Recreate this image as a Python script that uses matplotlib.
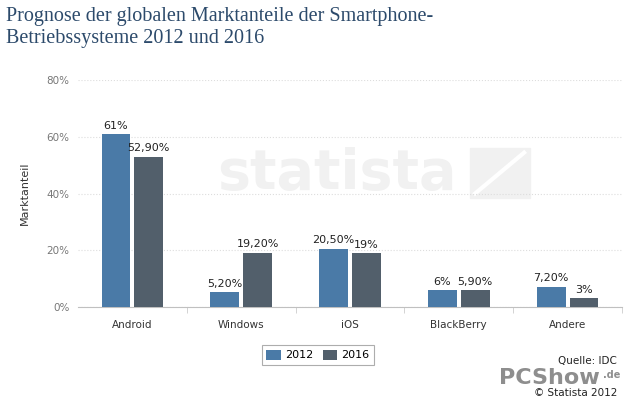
import numpy as np
import matplotlib.pyplot as plt

categories = ['Android', 'Windows', 'iOS', 'BlackBerry', 'Andere']
values_2012 = [61.0, 5.2, 20.5, 6.0, 7.2]
values_2016 = [52.9, 19.2, 19.0, 5.9, 3.0]
labels_2012 = ['61%', '5,20%', '20,50%', '6%', '7,20%']
labels_2016 = ['52,90%', '19,20%', '19%', '5,90%', '3%']
yticks = [0, 20, 40, 60, 80]


def main():
    fig = plt.figure(figsize=(6.32, 4.04), dpi=100)
    ax = fig.add_axes([78 / 632, 1 - 307 / 404, 544 / 632, 227 / 404])

    # statista watermark
    ax.text(0.475, 0.585, 'statista', transform=ax.transAxes, fontsize=40,
            fontweight='bold', color='#f1f1f1', ha='center', va='center', zorder=0)
    ax.add_patch(plt.Rectangle((0.72, 0.48), 0.11, 0.22, transform=ax.transAxes,
                               color='#f1f1f1', zorder=0))
    ax.plot([0.73, 0.82], [0.50, 0.68], transform=ax.transAxes, color='white',
            linewidth=3, zorder=0)

    x = np.arange(len(categories))
    off = 0.151
    w = 0.266
    b1 = ax.bar(x - off, values_2012, w, color='#4a7aa7', label='2012', zorder=3)
    b2 = ax.bar(x + off, values_2016, w, color='#525f6b', label='2016', zorder=3)
    for bars, labs in ((b1, labels_2012), (b2, labels_2016)):
        for r, lab in zip(bars, labs):
            ax.text(r.get_x() + r.get_width() / 2, r.get_height() + 1.2, lab,
                    ha='center', va='bottom', fontsize=8, color='#222222', zorder=4)

    ax.set_xlim(-0.5, len(categories) - 0.5)
    ax.set_ylim(0, 80)
    ax.set_yticks(yticks)
    ax.set_yticklabels(['{}%'.format(v) for v in yticks], fontsize=7.5, color='#777777')
    ax.set_xticks(x)
    ax.set_xticklabels(categories, fontsize=7.5, color='#333333')
    ax.set_xticks(np.arange(len(categories)) + 0.5, minor=True)
    ax.tick_params(axis='x', which='major', length=0, pad=9)
    ax.tick_params(axis='x', which='minor', length=4, color='#cccccc')
    ax.tick_params(axis='y', length=0, pad=6)
    ax.grid(axis='y', color='#dddddd', linestyle=':', linewidth=0.8, zorder=1)
    for s in ('top', 'right', 'left'):
        ax.spines[s].set_visible(False)
    ax.spines['bottom'].set_color('#c0c0c0')
    ax.set_ylabel('Marktanteil', fontsize=8, color='#333333', labelpad=12)

    fig.text(6 / 632, 1 - 7 / 404,
             'Prognose der globalen Marktanteile der Smartphone-\nBetriebssysteme 2012 und 2016',
             fontsize=14.5, family='Liberation Serif', color='#2c4a6b', va='top', ha='left',
             linespacing=1.2)

    leg = ax.legend(loc='center', bbox_to_anchor=(318 / 632, 1 - 355 / 404),
                    bbox_transform=fig.transFigure, ncol=2, fontsize=8, frameon=True,
                    fancybox=False, edgecolor='#999999', handlelength=1.3, handleheight=1.0,
                    columnspacing=0.8, handletextpad=0.4, borderpad=0.4)
    leg.get_frame().set_linewidth(0.8)

    fig.text(617 / 632, 1 - 361 / 404, 'Quelle: IDC', fontsize=7.5, color='#222222',
             ha='right', va='center')
    fig.text(600 / 632, 1 - 378 / 404, 'PCShow', fontsize=16, fontweight='bold',
             color='#7a7a7a', ha='right', va='center', alpha=0.85)
    fig.text(603 / 632, 1 - 375 / 404, '.de', fontsize=7, fontweight='bold',
             color='#7a7a7a', ha='left', va='center', alpha=0.85)
    fig.text(617 / 632, 1 - 393 / 404, '© Statista 2012', fontsize=7.5, color='#222222',
             ha='right', va='center')

    fig.savefig('out.png', dpi=100, facecolor='white')


if __name__ == '__main__':
    main()
